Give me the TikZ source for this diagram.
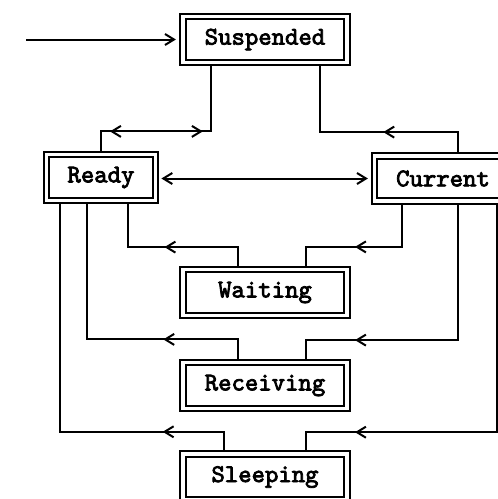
\documentclass[tikz,border=0pt]{standalone}
\usepackage{fontspec}
\usetikzlibrary{arrows.meta,decorations.markings}
\newfontfamily\statefont{lmmono10-regular.otf}[FakeBold=3]

\begin{document}
\begin{tikzpicture}[
  x=1pt, y=-1pt,
  chev/.tip={Straight Barb[length=9pt,width=11pt]},
  state/.style={draw, double, double distance=3.8pt, line width=2pt,
    minimum width=164pt, minimum height=46pt, inner sep=0pt, outer sep=3.9pt,
    font=\statefont\fontsize{25.5pt}{28pt}\selectfont},
  conn/.style={line width=2pt, line join=miter},
  tip at/.style={postaction={decorate, decoration={markings,
    mark=at position #1 with {\arrow{chev}}}}},
  back tip at/.style={postaction={decorate, decoration={markings,
    mark=at position #1 with {\arrowreversed{chev}}}}},
]
\useasboundingbox (0,0) rectangle (498,499);

% process states
\node[state] (susp)  at (265,39.5)  {Suspended};
\node[state, minimum width=109pt] (ready) at (101,177.5) {Ready};
\node[state, minimum width=137pt, minimum height=45pt] (curr) at (443,178.5) {Current};
\node[state] (wait)  at (265,292.5) {Waiting};
\node[state] (recv)  at (265,385.5) {Receiving};
\node[state] (sleep) at (265,477)   {Sleeping};

% creation entry
\coordinate (entry) at (26,39.5);
\draw[conn, -{chev}] (entry) -- ([xshift=-3.2pt]susp.west);

% Ready <-> Suspended
\draw[conn, back tip at=28.2pt, tip at=-73.2pt]
  (ready.north) -- ++(0,-19.2) -| ([xshift=-54pt]susp.south);

% Current -> Suspended
\draw[conn, tip at=94.7pt]
  ([xshift=15pt]curr.north) -- ++(0,-20) -| ([xshift=55pt]susp.south);

% Ready <-> Current
\draw[conn, {chev}-{chev}, shorten <=2pt, shorten >=2.7pt]
  (ready.east |- curr.west) -- (curr.west);

% Waiting -> Ready, Current -> Waiting
\draw[conn, tip at=92pt]
  ([xshift=-27pt]wait.north) -- ++(0,-18.5) -| ([xshift=27pt]ready.south);
\draw[conn, tip at=89pt]
  ([xshift=-41pt]curr.south) -- ++(0,42) -| ([xshift=41pt]wait.north);

% Receiving -> Ready, Current -> Receiving
\draw[conn, tip at=93.9pt]
  ([xshift=-27pt]recv.north) -- ++(0,-19.2) -| ([xshift=-13.7pt]ready.south);
\draw[conn, tip at=238.2pt]
  ([xshift=15pt]curr.south) -- ++(0,135.2) -| ([xshift=41pt]recv.north);

% Sleeping -> Ready, Current -> Sleeping
\draw[conn, tip at=79.6pt]
  ([xshift=-41pt]sleep.north) -- ++(0,-18.3) -| ([xshift=-41pt]ready.south);
\draw[conn, tip at=369.6pt]
  ([xshift=54.3pt]curr.south) -- ++(0,227.3) -| ([xshift=41pt]sleep.north);
\end{tikzpicture}
\end{document}
